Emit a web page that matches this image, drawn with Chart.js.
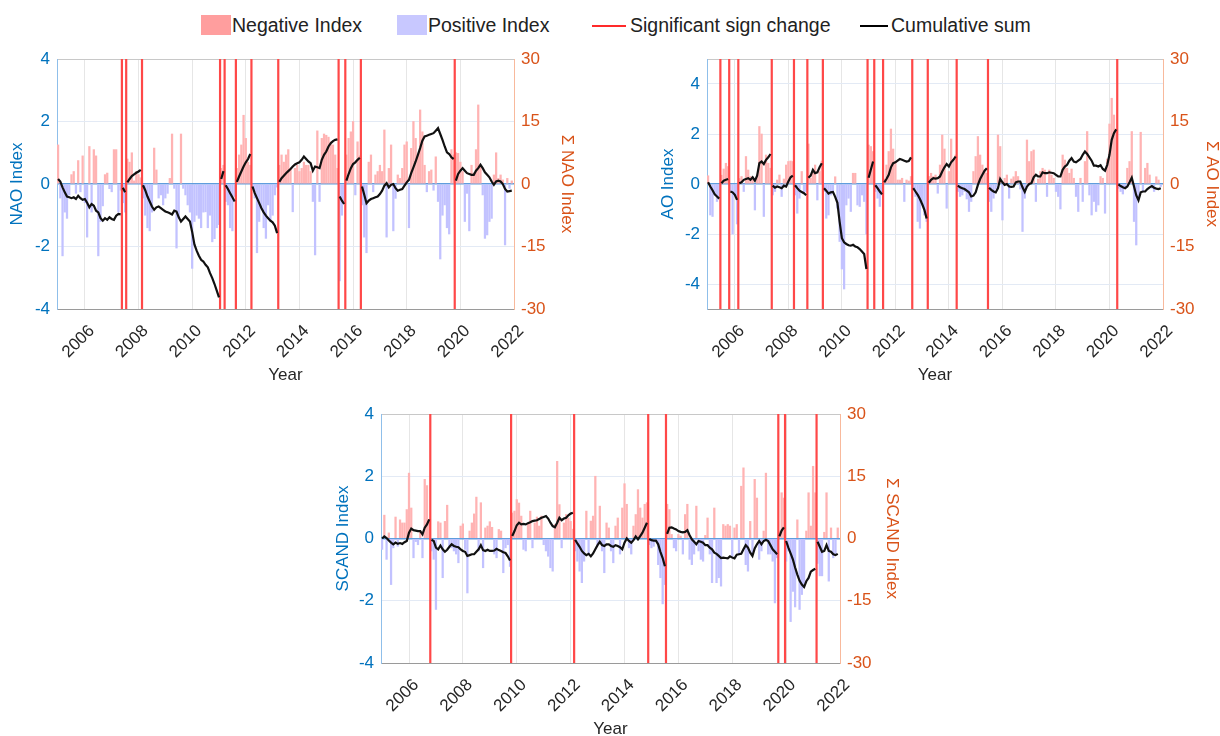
<!DOCTYPE html>
<html>
<head>
<meta charset="utf-8">
<script src="https://cdn.jsdelivr.net/npm/chart.js@4.4.1/dist/chart.umd.min.js"></script>
<style>
  html, body { margin: 0; padding: 0; background: #fff; overflow: hidden; }
  body { width: 1220px; height: 736px; position: relative; font-family: "Liberation Sans", Arial, sans-serif; }
  canvas { position: absolute; }
  .key { position: absolute; top: 14px; height: 22px; line-height: 22px; font-size: 19.5px; color: #222; white-space: nowrap; }
  .swatch { position: absolute; }
</style>
</head>
<body>
<div class="swatch" style="left:201px;top:15px;width:30px;height:20px;background:#ff9e9e"></div>
<div class="key" style="left:232px">Negative Index</div>
<div class="swatch" style="left:397px;top:15px;width:30px;height:20px;background:#c8c8ff"></div>
<div class="key" style="left:428px">Positive Index</div>
<div class="swatch" style="left:592px;top:25px;width:34px;height:2px;background:#ff2a2a"></div>
<div class="key" style="left:630px">Significant sign change</div>
<div class="swatch" style="left:860px;top:25px;width:28px;height:1.5px;background:#000"></div>
<div class="key" style="left:891px">Cumulative sum</div>

<canvas id="nao" width="581" height="348" style="left:0px;top:40px"></canvas>
<canvas id="ao" width="576" height="348" style="left:650px;top:40px"></canvas>
<canvas id="scand" width="581" height="347" style="left:325px;top:395px"></canvas>

<script>
// monthly series, Jan 2005 .. Dec 2021 (one row per year)
const startYear = 2005;
const xTicks = [2006, 2008, 2010, 2012, 2014, 2016, 2018, 2020, 2022];
const sumTicks = [-30, -15, 0, 15, 30];

const naoIndex = [
  1.25, -0.45, -2.3, -0.9, -1.1, -0.35, 0.3, 0.4, -0.3, 0.75, -0.25, 0.9,
  -0.6, -1.7, 1.2, -0.9, 1.1, 0.9, -2.3, -1.2, -0.7, 0.3, 0.35, -0.15,
  -0.25, 1.1, 1.1, -0.9, -0.2, -0.6, -0.9, 0.8, 0.7, 1.0, 0.1, 0.4,
  0.3, 0.2, -0.45, -1.0, -1.4, -1.5, -0.9, 1.15, 0.45, -0.45, -0.35, -0.67,
  -0.45, -0.3, 0.18, 1.6, -0.14, -2.05, -1.1, 1.6, -0.14, -0.35, -0.67, -0.9,
  -2.7, -1.2, -1.0, -1.1, -1.4, -0.9, -0.89, -1.4, -1.0, -1.85, -1.75, -1.4,
  -1.3, 0.5, 0.6, -0.56, -0.67, -1.4, -1.5, -0.4, 0.5, 0.93, 1.25, 2.2,
  1.46, 0.7, 0.6, -0.14, -0.45, -2.2, -1.2, -0.78, -1.4, -1.74, -0.67, -1.2,
  -1.0, -0.35, -0.1, 0.6, 0.93, 0.7, 0.93, 1.1, 0.5, -0.89, 0.5, 0.6,
  0.4, 0.5, 0.7, 0.6, 0.6, 0.4, -0.56, -2.27, 1.7, -0.56, 1.46, 1.6,
  1.56, 1.5, 1.35, 1.25, 0.93, 0.5, -3.1, -1.0, -0.56, 0.93, 1.46, 1.67,
  2.0, -0.35, 1.35, 0.9, -0.67, -1.7, -2.2, 0.7, 0.93, -0.25, 0.29, 0.4,
  0.6, 0.4, 1.73, -1.7, 0.5, 1.25, -1.5, -0.46, 0.29, 0.18, 0.5, 1.25,
  1.35, -1.4, 1.14, 2.0, 1.46, 0.93, 2.37, 1.67, 0.6, -0.25, 0.4, 0.45,
  -0.2, 0.87, -0.56, -2.4, -1.0, -0.67, -1.4, -1.6, 1.1, 0.93, 1.0, 0.98,
  0.7, 0.4, -1.2, -0.3, -1.5, 0.6, 0.35, 1.1, 2.53, 0.6, -0.35, -1.74,
  -1.63, -1.2, -1.1, 0.29, 1.0, 0.18, 0.29, 0.13, -1.95, 0.18, -0.14, 0.1
];
const naoSum = [
  1.2, 0.6, -0.8, -2.0, -3.0, -3.2, -3.4, -3.2, -3.6, -2.8, -3.4, -3.8,
  -3.6, -4.5, -5.6, -4.8, -5.2, -6.4, -6.8, -8.2, -8.8, -8.2, -8.6, -8.0,
  -8.4, -8.6, -7.6, -7.2, -7.3, -0.9, -2.0, 0.4, 1.2, 1.9, 2.3, 2.7,
  3.0, 3.4, -0.3, -1.5, -3.0, -4.2, -5.4, -6.2, -5.6, -5.4, -5.8, -6.2,
  -6.6, -6.8, -7.0, -7.3, -6.4, -6.6, -8.0, -9.0, -8.4, -7.8, -8.4, -9.0,
  -11.5, -14.5, -16.0, -17.2, -18.2, -18.6, -19.4, -20.0, -21.4, -22.6, -24.0, -25.6,
  -27.2, 1.2, 3.1, -0.3, -1.2, -2.2, -3.2, -4.2, 0.5, 1.8, 3.0, 4.2,
  5.2, 6.0, 7.2, -0.6, -2.2, -3.4, -4.6, -5.8, -6.8, -7.6, -8.2, -8.8,
  -9.2, -10.0, -11.8, 0.5, 1.4, 2.0, 2.6, 3.1, 3.6, 4.2, 4.7, 5.0,
  5.2, 5.8, 6.6, 6.0, 5.4, 5.0, 3.2, 4.2, 4.0, 3.8, 5.8, 7.0,
  7.8, 9.0, 9.8, 10.3, 10.6, 10.7, -3.0, -4.0, -4.8, 0.8, 2.4, 3.8,
  4.8, 5.2, 5.8, 6.3, -0.6, -2.6, -4.6, -4.0, -3.6, -3.4, -3.2, -3.0,
  -2.4, -1.6, -0.4, 0.2, -0.8, -0.2, 0.0, -1.0, -1.6, -1.4, -1.2, -0.4,
  0.4, 1.0, 2.6, 4.0, 5.4, 7.0, 8.6, 10.4, 11.4, 11.6, 11.8, 12.0,
  12.2, 12.8, 13.4, 12.0, 10.6, 9.0, 7.6, 7.2, 6.4, 6.0, 0.8, 2.4,
  3.2, 3.8, 3.2, 2.6, 2.4, 2.2, 2.2, 3.2, 3.8, 4.6, 3.8, 2.8,
  2.2, 1.6, 0.6, -0.2, 0.6, 0.8, 0.6, 0.0, -1.2, -1.8, -1.7, -1.6
];
const naoBreaks = [2007.38, 2007.54, 2008.13, 2011.04, 2011.21, 2011.63, 2012.21, 2013.21, 2015.46, 2015.71, 2016.29, 2019.79];

const aoIndex = [
  0.33, -1.24, -1.3, -0.44, -0.7, -0.5, 0.35, 0.6, 0.83, 0.7, -0.27, -2.0,
  -0.44, -1.6, 0.22, 0.3, -0.3, 1.1, 0.56, 0.3, 0.2, -1.04, 0.36, 2.3,
  2.0, -1.3, 1.16, 0.83, 0.63, -0.44, -0.3, 0.16, 0.36, -0.5, 0.2, 0.76,
  0.9, 0.92, 0.9, -0.44, -1.17, -0.57, 0.5, -0.37, -0.3, 1.6, 0.23, 0.5,
  0.76, -0.64, 0.5, 0.92, -0.3, -1.37, -1.24, -0.44, -0.37, 0.29, -0.97, -2.3,
  -3.4, -4.2, -0.84, -0.57, -1.1, 0.43, 0.43, -0.84, -0.9, -0.44, -0.7, -2.0,
  1.56, 1.5, 1.3, -0.3, -0.57, -0.9, -0.44, 0.2, 0.76, 1.3, 2.2, 1.4,
  0.9, 0.16, 0.16, 0.23, -0.7, 0.16, 0.12, 0.3, -0.17, -0.5, -1.5, -1.77,
  -0.7, -1.24, -1.5, 0.3, 0.43, 0.3, 0.36, -0.37, 0.76, 1.96, 1.4, -0.97,
  0.5, 1.8, 0.9, 1.16, -0.3, -0.5, -0.44, -0.3, -0.6, -1.1, -0.7, 0.5,
  1.1, 1.9, 1.16, 0.76, 0.56, 0.43, -0.7, -1.1, -0.57, -0.2, 1.96, 1.5,
  -1.44, 0.23, 0.36, -0.57, 0.2, 0.29, 0.5, 0.3, -0.2, -1.9, -0.57, 1.76,
  0.9, 1.3, 1.36, -0.7, 0.2, 0.5, 0.63, 0.56, -0.5, 0.56, 0.36, 0.23,
  -0.3, -0.5, -1.0, 1.16, 0.96, 0.63, 0.43, 0.6, 0.23, -0.5, -1.1, 0.23,
  -0.7, 0.9, 2.1, -0.44, -1.24, -0.7, -1.1, -0.84, 0.3, 0.23, -1.17, 1.0,
  2.4, 3.43, 2.76, 2.2, -0.17, -0.3, -0.4, -0.17, 0.63, 0.9, 2.1, -1.5,
  -2.44, -0.5, 2.07, -0.3, 0.63, 0.83, 0.36, -0.17, -0.3, 0.29, 0.16, -0.1
];
const aoSum = [
  0.4, -0.6, -1.5, -2.5, -3.0, -3.5, 0.2, 0.8, 1.0, 1.2, -1.8, -2.0,
  -2.6, -3.8, 0.2, 0.4, 1.0, 1.2, 1.4, 1.0, 1.6, 0.8, 2.0, 5.0,
  5.4, 4.8, 5.8, 6.4, 7.2, -0.4, -0.9, -0.6, -0.8, -1.0, -0.4, -0.6,
  0.6, 1.6, 2.0, -0.3, -1.0, -1.6, -1.9, -2.2, -2.7, 1.5, 2.0, 3.4,
  2.6, 2.8, 4.0, 5.0, -1.0, -1.6, -2.3, -2.0, -1.9, -3.1, -4.5, -9.1,
  -13.0, -14.0, -14.4, -14.7, -14.8, -14.6, -15.0, -15.2, -15.6, -16.2, -16.8, -20.4,
  1.5, 3.5, 5.4, -0.3, -1.0, -1.8, -2.5, 0.4, 1.2, 2.2, 4.0, 5.0,
  5.2, 5.6, 6.0, 5.8, 5.6, 5.4, 5.5, 6.4, -1.0, -1.8, -2.6, -3.6,
  -4.8, -6.2, -8.3, 0.3, 1.0, 1.4, 1.3, 1.4, 1.8, 3.0, 4.0, 4.8,
  4.2, 5.2, 5.8, 6.6, -0.4, -0.8, -1.0, -1.2, -1.6, -2.0, -3.0, -2.8,
  -2.0, -0.2, 1.2, 2.2, 3.2, 3.8, -0.9, -1.4, -1.8, -2.0, -1.0, 1.2,
  0.4, -0.2, 0.0, -0.6, -0.7, -0.6, 0.4, 0.6, 0.6, -0.8, -1.9, -0.6,
  0.0, 0.2, 1.6, 2.2, 1.8, 1.8, 2.8, 2.6, 2.6, 2.8, 2.7, 2.6,
  2.2, 1.8, 1.8, 3.4, 4.2, 4.6, 5.6, 6.2, 5.4, 5.2, 5.6, 6.0,
  7.0, 7.8, 7.2, 6.4, 5.6, 4.4, 4.4, 4.2, 4.5, 3.6, 3.2, 4.6,
  7.0, 10.6, 12.2, 13.1, -0.1, -0.5, -0.8, -1.0, -0.6, 0.4, 1.5, -0.6,
  -2.7, -3.9, -2.0, -1.8, -1.8, -1.2, -0.8, -0.5, -0.9, -1.1, -1.2, -1.0
];
const aoBreaks = [2005.46, 2005.79, 2006.13, 2007.38, 2008.21, 2008.71, 2009.29, 2010.96, 2011.21, 2011.54, 2012.63, 2013.21, 2014.29, 2015.46, 2020.29];

const scandIndex = [
  -0.35, 0.75, -0.67, 0.18, -1.48, -0.3, 0.69, -0.25, 0.6, 0.5, 0.5, 0.93,
  2.1, 0.98, -0.62, -0.1, -0.2, 0.24, -0.62, 1.9, 1.7, 0.6, -0.4, -0.67,
  -2.28, 0.54, 0.5, -1.26, 0.55, 1.07, -0.25, -0.3, -0.4, -0.5, -0.78, 0.4,
  0.47, -0.35, -1.75, 0.24, 0.5, 0.79, 1.33, -0.4, 1.15, -0.94, 0.34, 0.4,
  0.54, 0.36, -0.5, -0.62, 0.29, 0.24, -1.1, -0.3, -0.2, -0.9, 0.82, 0.88,
  1.25, 1.14, 0.72, -0.35, -0.4, 0.5, 0.88, -0.3, 0.5, 0.69, 0.4, 0.72,
  -0.2, -0.4, -0.57, -0.94, -1.05, 0.45, 2.48, 1.09, -0.3, 0.5, 0.77, 0.66,
  0.55, 0.3, -0.4, -0.73, -1.05, -1.42, -0.73, 0.88, -0.5, 0.56, 0.72, 2.0,
  -0.2, 1.04, -0.4, -1.1, 0.5, 0.34, -0.4, -0.78, 0.4, 0.66, -0.5, 0.98,
  1.76, 1.1, -0.3, -0.5, 0.4, 0.77, 1.57, 0.98, 0.66, 1.1, 1.15, -0.2,
  -0.3, -0.25, -0.1, -0.84, -1.26, -2.1, -1.48, 1.1, 0.93, 0.13, -0.3, -0.4,
  0.13, 0.08, -0.5, 0.77, 1.1, -0.67, -0.84, -0.5, 1.04, -0.4, -0.67, -0.73,
  0.1, 0.66, -0.5, -1.42, 0.98, -1.42, -1.26, -1.53, 0.45, 0.4, 0.45, 0.4,
  -0.57, 0.34, 0.45, -0.5, 1.68, 2.27, -0.84, -1.05, 0.55, -0.5, 1.9, 1.3,
  -0.67, -0.4, 0.24, 2.1, -0.5, -0.5, -0.73, -2.07, -0.62, 0.24, 1.47, 1.3,
  -0.73, -0.4, -2.67, -1.7, -2.2, 0.6, -2.28, -1.8, -1.58, 0.24, 1.47, 0.4,
  2.32, 1.47, -0.8, -1.2, -1.2, 0.2, 1.47, -1.37, 0.34, -0.62, -0.5, 0.34
];
const scandSum = [
  0.0, 0.5, 0.1, -0.5, -1.0, -1.4, -1.0, -1.3, -1.1, -1.3, -0.9, -0.6,
  1.4, 2.4, 2.0, 1.9, 1.8, 1.8, 1.0, 2.6, 3.4, 4.6, -0.3, -0.6,
  -2.2, -2.6, -1.7, -2.6, -3.2, -2.7, -2.0, -1.4, -1.8, -2.0, -2.1, -2.6,
  -3.0, -3.2, -4.2, -4.0, -3.8, -3.8, -3.2, -2.6, -1.6, -2.8, -3.0, -2.7,
  -3.0, -3.0, -2.9, -2.5, -2.8, -3.0, -3.3, -3.5, -4.3, -5.3, 0.6, 1.8,
  3.2, 3.8, 3.4, 3.5, 3.4, 3.7, 3.9, 4.2, 4.3, 4.4, 4.7, 5.0,
  5.2, 5.4, 4.8, 3.8, 3.0, 2.7, 3.8, 5.0, 4.4, 4.8, 5.0, 5.6,
  6.0, 6.2, -0.3, -1.2, -2.0, -3.0, -3.6, -4.0, -3.7, -4.3, -3.6, -2.6,
  -1.6, -0.8, -1.6, -1.8, -1.4, -1.4, -1.8, -2.0, -1.6, -1.8, -2.1, -2.6,
  -1.0, 0.0, -0.6, -1.0, -0.4, 0.5, -0.2, 0.6, 1.4, 2.6, 3.8, -0.1,
  -0.4, -0.5, -0.5, -1.4, -3.2, -4.7, -6.7, 1.1, 2.6, 2.7, 2.4, 2.2,
  1.8, 1.6, 1.5, 1.6, 2.0, 0.8, -0.2, -0.8, -1.4, -0.6, -0.8, -1.0,
  -1.6, -1.6, -2.2, -2.6, -3.4, -3.7, -4.2, -4.7, -4.6, -4.7, -4.8, -4.3,
  -4.6, -4.8, -3.9, -3.8, -3.7, -2.6, -1.6, -2.2, -3.4, -4.2, -2.4, -1.4,
  -0.6, -1.4, -0.6, -0.3, -0.6, -1.6, -2.6, -3.2, -3.8, 0.5, 1.9, 2.7,
  -0.6, -2.2, -3.6, -5.0, -7.0, -8.7, -10.2, -11.1, -11.7, -10.3, -9.5, -8.0,
  -7.6, -7.3, -0.8, -2.0, -3.2, -3.0, -1.6, -3.0, -3.2, -3.8, -4.0, -3.7
];
const scandBreaks = [2006.79, 2009.79, 2012.13, 2014.88, 2015.54, 2019.71, 2019.96, 2021.13];

const blue = '#0072bd';
const orange = '#d95319';
const font = 'Liberation Sans, Arial, sans-serif';

function monthOf(i){
    return startYear + i / 12;
}

function barPoints(values){
    return values.map(function(v, i){ return {x: monthOf(i), y: v}; });
}

// cumulative sum restarts at every sign change, so break the line there
function sumPoints(values, breaks){
    const pts = [];
    let b = 0;
    values.forEach(function(v, i){
        const t = monthOf(i);
        while(b < breaks.length && breaks[b] <= t){
            pts.push({x: breaks[b], y: null});
            b++;
        }
        pts.push({x: t, y: v});
    });
    return pts;
}

function breakPoints(breaks, lo, hi){
    const pts = [];
    breaks.forEach(function(b){
        pts.push({x: b, y: lo}, {x: b, y: hi}, {x: b, y: null});
    });
    return pts;
}

function fixedTicks(list){
    return function(scale){
        scale.ticks = list.map(function(v){ return {value: v}; });
    };
}

function initPanel(id, p){
    const ctx = document.getElementById(id).getContext('2d');
    const indexTicks = [-4, -2, 0, 2, 4];
    new Chart(ctx, {
        data: {
            datasets: [{
                type: 'line',
                data: sumPoints(p.sum, p.breaks),
                borderColor: '#111',
                borderWidth: 2.2,
                pointRadius: 0,
                spanGaps: false,
                yAxisID: 'y2',
                order: 0
            }, {
                type: 'line',
                data: breakPoints(p.breaks, p.yMin, p.yMax),
                borderColor: '#ff4848',
                borderWidth: 2.2,
                pointRadius: 0,
                spanGaps: false,
                yAxisID: 'y',
                order: 1
            }, {
                type: 'bar',
                data: barPoints(p.index),
                backgroundColor: function(c){ return c.raw && c.raw.y >= 0 ? '#ffb3b3' : '#c2c2ff'; },
                barThickness: 1.6,
                borderWidth: 0,
                yAxisID: 'y',
                order: 2
            }]
        },
        options: {
            responsive: false,
            animation: false,
            events: [],
            layout: {padding: {left: p.padLeft, top: 19, right: 0, bottom: 0}},
            plugins: {legend: {display: false}, tooltip: {enabled: false}},
            scales: {
                x: {
                    type: 'linear',
                    position: 'bottom',
                    min: 2004.96,
                    max: 2022,
                    offset: false,
                    afterBuildTicks: fixedTicks(xTicks),
                    afterFit: function(s){ s.height = 79; },
                    grid: {color: '#e6e6e6', drawTicks: false, offset: false},
                    border: {color: '#9a9a9a'},
                    ticks: {
                        autoSkip: false, minRotation: 45, maxRotation: 45,
                        padding: 12, labelOffset: 7, color: '#262626',
                        font: {family: font, size: 17},
                        callback: function(v){ return String(v); }
                    },
                    title: {display: true, text: 'Year', color: '#262626', font: {family: font, size: 17}, padding: {top: 4, bottom: 2}}
                },
                xTop: {
                    type: 'linear',
                    position: 'top',
                    min: 2004.96,
                    max: 2022,
                    afterFit: function(s){ s.height = 0; },
                    grid: {display: false},
                    border: {color: '#c8c8c8'},
                    ticks: {display: false}
                },
                y: {
                    position: 'left',
                    min: p.yMin,
                    max: p.yMax,
                    afterBuildTicks: fixedTicks(indexTicks),
                    afterFit: function(s){ s.width = p.leftW; },
                    grid: {
                        drawTicks: false,
                        color: function(c){ return c.tick && c.tick.value === 0 ? '#5f9ddd' : '#e3eaf5'; },
                        lineWidth: function(c){ return c.tick && c.tick.value === 0 ? 1.6 : 1; }
                    },
                    border: {color: '#8fbfea'},
                    ticks: {padding: 7, color: blue, font: {family: font, size: 17}},
                    title: {display: true, text: p.name + ' Index', color: blue, font: {family: font, size: 17}}
                },
                y2: {
                    position: 'right',
                    min: -30,
                    max: 30,
                    afterBuildTicks: fixedTicks(sumTicks),
                    afterFit: function(s){ s.width = p.rightW; },
                    grid: {drawOnChartArea: false, drawTicks: false},
                    border: {color: '#f8b99c'},
                    ticks: {padding: 7, color: orange, font: {family: font, size: 17}},
                    title: {display: true, text: '\u03a3 ' + p.name + ' Index', color: orange, font: {family: font, size: 17}}
                }
            }
        }
    });
}

initPanel('nao', {index: naoIndex, sum: naoSum, breaks: naoBreaks, name: 'NAO', yMin: -4, yMax: 4, padLeft: 3, leftW: 54, rightW: 67});
initPanel('ao', {index: aoIndex, sum: aoSum, breaks: aoBreaks, name: 'AO', yMin: -5, yMax: 5, padLeft: 4, leftW: 53, rightW: 63});
initPanel('scand', {index: scandIndex, sum: scandSum, breaks: scandBreaks, name: 'SCAND', yMin: -4, yMax: 4, padLeft: 4, leftW: 52, rightW: 66});
</script>
</body>
</html>
